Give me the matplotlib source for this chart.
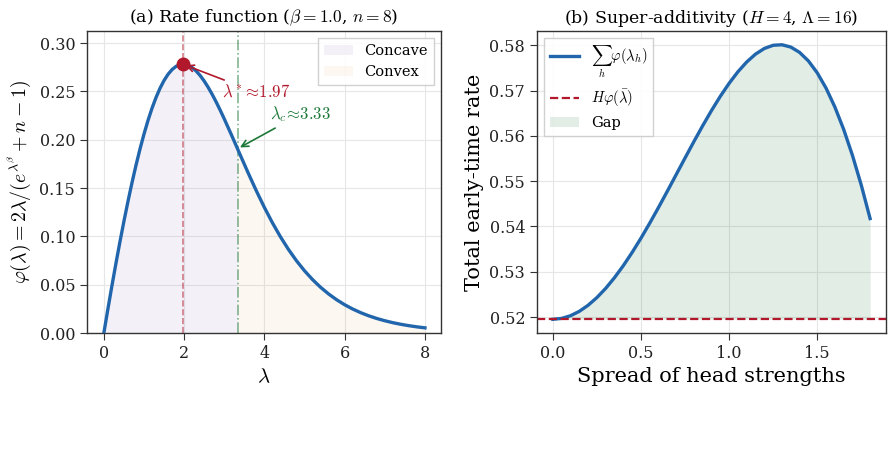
import matplotlib
matplotlib.use("Agg")
import matplotlib.pyplot as plt
import numpy as np

# (a) rate function phi(lambda)
lam = [0.0, 0.1, 0.2, 0.3, 0.4, 0.5, 0.6, 0.7, 0.8, 0.9, 1.0, 1.1, 1.2, 1.3, 1.4,
       1.5, 1.6, 1.7, 1.8, 1.9, 2.0, 2.1, 2.2, 2.3, 2.4, 2.5, 2.6, 2.7, 2.8, 2.9,
       3.0, 3.2, 3.33, 3.4, 3.6, 3.8, 4.0, 4.2, 4.4, 4.6, 4.8, 5.0, 5.2, 5.4, 5.6,
       5.8, 6.0, 6.2, 6.4, 6.6, 6.8, 7.0, 7.2, 7.4, 7.6, 7.8, 8.0]
phi = [0.0, 0.02468, 0.04865, 0.07186, 0.09421, 0.11562, 0.13602, 0.15532,
       0.17343, 0.19028, 0.20580, 0.21991, 0.23256, 0.24369, 0.25327, 0.26129,
       0.26771, 0.27257, 0.27587, 0.27766, 0.27799, 0.27693, 0.27457, 0.27100,
       0.26632, 0.26065, 0.25411, 0.24680, 0.23886, 0.23040, 0.22152,
       0.20297, 0.19062, 0.18396, 0.16514, 0.14700, 0.12987, 0.11400, 0.09949,
       0.08640, 0.07470, 0.06434, 0.05524, 0.04728, 0.04037, 0.03439, 0.02924,
       0.02481, 0.02102, 0.01779, 0.01503, 0.01269, 0.01069, 0.00901, 0.00758,
       0.00637, 0.00535]
lam_star, phi_star = 1.97, 0.27804
lam_c, phi_c = 3.33, 0.19062

# (b) super-additivity: total rate vs spread
spread = [0.0, 0.05, 0.1, 0.15, 0.2, 0.25, 0.3, 0.35, 0.4, 0.45, 0.5, 0.55, 0.6,
          0.65, 0.7, 0.75, 0.8, 0.85, 0.9, 0.95, 1.0, 1.05, 1.1, 1.15, 1.2, 1.25,
          1.3, 1.35, 1.4, 1.45, 1.5, 1.55, 1.6, 1.65, 1.7, 1.75, 1.8]
total = [0.519496, 0.519692, 0.520278, 0.521248, 0.522592, 0.524295, 0.526337,
         0.528701, 0.531355, 0.534273, 0.537417, 0.540752, 0.544235, 0.547823,
         0.551473, 0.555124, 0.558735, 0.562245, 0.565599, 0.568745, 0.571620,
         0.574172, 0.576343, 0.578077, 0.579322, 0.580026, 0.580143, 0.579635,
         0.578452, 0.576569, 0.573947, 0.570566, 0.566405, 0.561450, 0.555692,
         0.549123, 0.541748]
baseline = 0.519496

blue = "#2166ac"
red = "#b2182b"
green = "#1b7837"

plt.rcParams.update({
    "font.family": "DejaVu Serif",
    "mathtext.fontset": "cm",
    "axes.edgecolor": "#333333",
    "axes.linewidth": 1.0,
    "xtick.color": "#333333",
    "ytick.color": "#333333",
    "xtick.labelcolor": "#222222",
    "ytick.labelcolor": "#222222",
    "xtick.labelsize": 11.5,
    "ytick.labelsize": 11.5,
    "xtick.major.size": 5,
    "ytick.major.size": 5,
})

fig = plt.figure(figsize=(8.96, 4.57), dpi=100)
ax1 = fig.add_axes([0.0971, 0.2713, 0.3951, 0.6608])
ax2 = fig.add_axes([0.5993, 0.2713, 0.3895, 0.6608])

lam_a = np.array(lam)
phi_a = np.array(phi)

ax1.fill_between(lam_a, 0, phi_a, where=lam_a <= lam_c, color="#8e63b0", alpha=0.09,
                 label="Concave", linewidth=0)
ax1.fill_between(lam_a, 0, phi_a, where=lam_a >= lam_c, color="#f0a050", alpha=0.08,
                 label="Convex", linewidth=0)
ax1.plot(lam_a, phi_a, color=blue, lw=2.4, zorder=3)
ax1.axvline(lam_star, color=red, ls="--", lw=1.2, alpha=0.55)
ax1.axvline(lam_c, color=green, ls="-.", lw=1.2, alpha=0.55)
ax1.plot([lam_star], [phi_star], "o", color=red, ms=9, zorder=4)
ax1.annotate(r"$\lambda^*\!\approx\!1.97$", xy=(lam_star, phi_star), xytext=(2.95, 0.249),
             color=red, fontsize=12, va="center",
             arrowprops=dict(arrowstyle="->", color=red, lw=1.2))
ax1.annotate(r"$\lambda_c\!\approx\!3.33$", xy=(lam_c, phi_c), xytext=(4.15, 0.2265),
             color=green, fontsize=12, va="center",
             arrowprops=dict(arrowstyle="->", color=green, lw=1.2))
ax1.set_xlim(-0.42, 8.4)
ax1.set_ylim(0, 0.3124)
ax1.set_xticks([0, 2, 4, 6, 8])
ax1.set_yticks([0.0, 0.05, 0.10, 0.15, 0.20, 0.25, 0.30])
ax1.yaxis.set_major_formatter(matplotlib.ticker.FormatStrFormatter("%.2f"))
ax1.grid(True, color="#e6e6e6", lw=0.8)
ax1.set_axisbelow(True)
ax1.set_xlabel(r"$\lambda$", fontsize=15)
ax1.set_ylabel(r"$\varphi(\lambda) = 2\lambda/(e^{\lambda^\beta}+n-1)$", fontsize=14.3,
               labelpad=5)
ax1.set_title(r"(a) Rate function ($\beta=1.0$, $n=8$)", fontsize=12.5)
ax1.legend(loc="upper right", fontsize=10.5, framealpha=0.9, edgecolor="#cccccc",
           fancybox=False)

ax2.fill_between(spread, baseline, total, color=green, alpha=0.13, linewidth=0,
                 label="Gap")
ax2.plot(spread, total, color=blue, lw=2.4, label=r"$\sum_h \varphi(\lambda_h)$")
ax2.axhline(baseline, color=red, ls="--", lw=1.6, label=r"$H\varphi(\bar{\lambda})$")
ax2.set_xticks([0.0, 0.5, 1.0, 1.5])
ax2.set_yticks([0.52, 0.53, 0.54, 0.55, 0.56, 0.57, 0.58])
ax2.grid(True, color="#e6e6e6", lw=0.8)
ax2.set_axisbelow(True)
ax2.set_xlabel("Spread of head strengths", fontsize=15)
ax2.set_ylabel("Total early-time rate", fontsize=15)
ax2.set_title(r"(b) Super-additivity ($H=4$, $\Lambda=16$)", fontsize=12.5)
h, l = ax2.get_legend_handles_labels()
order = [1, 2, 0]
ax2.legend([h[i] for i in order], [l[i] for i in order], loc="upper left", fontsize=10.5,
           framealpha=0.9, edgecolor="#cccccc", fancybox=False)

fig.savefig("out.png", dpi=100)
